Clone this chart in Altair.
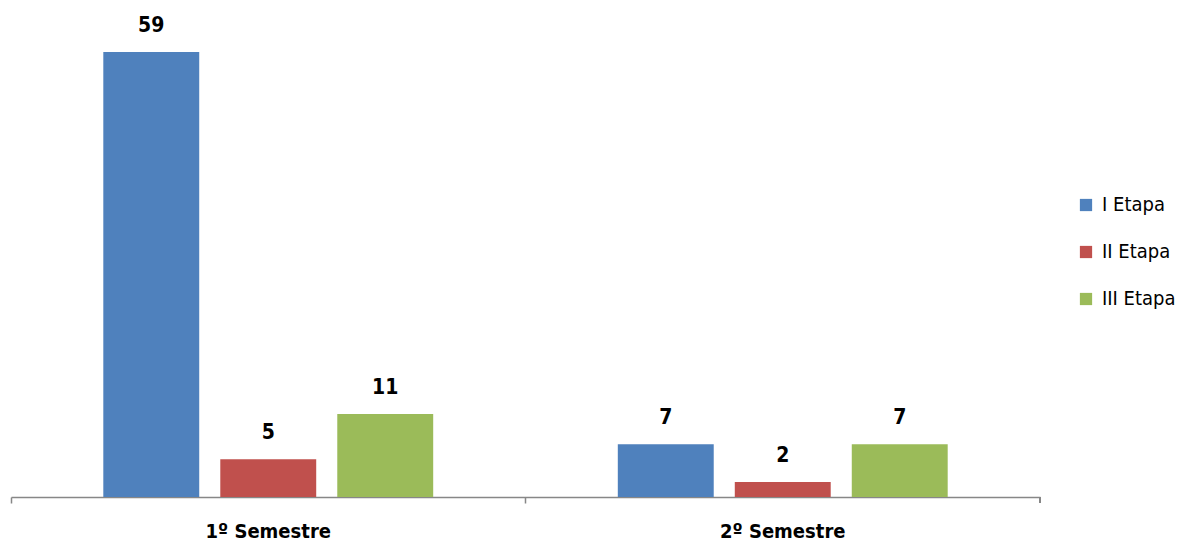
import altair as alt
import pandas as pd

semestres = ["1º Semestre", "2º Semestre"]
etapas = ["I Etapa", "II Etapa", "III Etapa"]
valores_1 = [59, 5, 11]
valores_2 = [7, 2, 7]
cores = ["#4F81BD", "#C0504D", "#9BBB59"]

rows = []
for s, vals in zip(semestres, [valores_1, valores_2]):
    for e, v in zip(etapas, vals):
        rows.append({"Semestre": s, "Etapa": e, "Valor": v})
df = pd.DataFrame(rows)

FONT = "'Liberation Sans Narrow', 'DejaVu Sans Condensed', 'Roboto Condensed', 'Liberation Sans', Arial, sans-serif"
W, H = 1029, 489

x = alt.X("Semestre:N", sort=semestres, title=None,
          scale=alt.Scale(paddingInner=0, paddingOuter=0),
          axis=alt.Axis(bandPosition=0, labelAngle=0, labelFont=FONT, labelFontSize=20,
                        labelFontWeight="bold", labelColor="black", labelPadding=18,
                        domainColor="#878787", tickColor="#878787", tickSize=6,
                        domainWidth=1.5, tickWidth=1.5, grid=False))
xo = alt.XOffset("Etapa:N", sort=etapas,
                 scale=alt.Scale(paddingInner=0.18, paddingOuter=0.789))
y = alt.Y("Valor:Q", scale=alt.Scale(domain=[0, 64.84], nice=False), axis=None)

bars = alt.Chart(df).mark_bar().encode(
    x=x, xOffset=xo, y=y,
    color=alt.Color("Etapa:N", sort=etapas,
                    scale=alt.Scale(domain=etapas, range=cores),
                    legend=alt.Legend(title=None, orient="none", legendX=1065, legendY=187,
                                      symbolType="square", symbolSize=150, symbolStrokeWidth=0,
                                      labelFont=FONT, labelFontSize=20, labelColor="black",
                                      rowPadding=27, labelOffset=6)),
)

labels = alt.Chart(df).mark_text(baseline="bottom", dy=-16, font=FONT, fontSize=21,
                                  fontWeight="bold", color="black").encode(
    x=x, xOffset=xo, y=y, text="Valor:Q")

end_tick = alt.Chart(df).mark_rule(color="#878787", strokeWidth=1.5).encode(
    x=alt.value(W), y=alt.value(H), y2=alt.value(H + 6))

chart = alt.layer(bars, labels, end_tick).properties(
    width=W, height=H, background="white",
    padding={"left": 2, "top": 0, "right": 0, "bottom": 0},
).configure_view(stroke=None, strokeWidth=0)

chart.save("out.html", embed_options={"renderer": "svg", "actions": False})
